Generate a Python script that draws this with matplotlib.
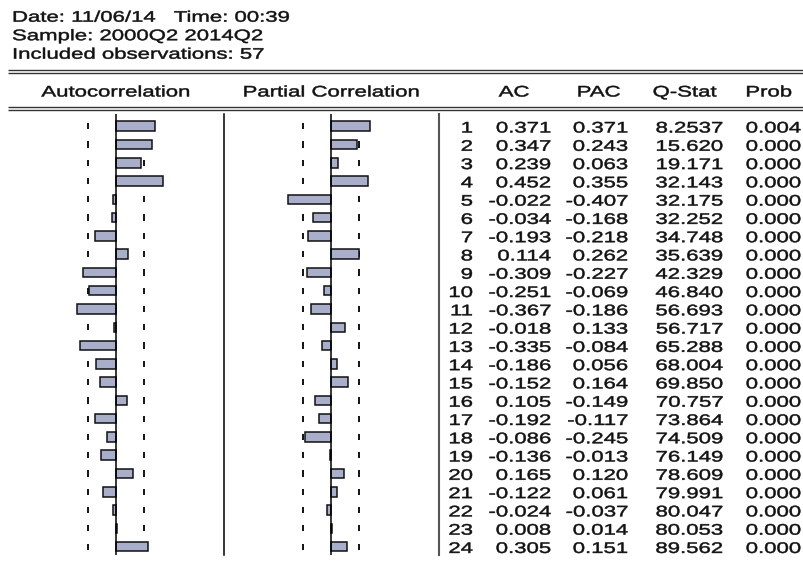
import numpy as np
import matplotlib
matplotlib.use("Agg")
import matplotlib.pyplot as plt
from matplotlib.patheffects import AbstractPathEffect
from matplotlib.transforms import Affine2D

# ---- correlogram values -------------------------------------------------
header_lines = ["Date: 11/06/14   Time: 00:39",
                "Sample: 2000Q2 2014Q2",
                "Included observations: 57"]
n_obs = 57
lags = list(range(1, 25))
ac = [0.371, 0.347, 0.239, 0.452, -0.022, -0.034, -0.193, 0.114,
      -0.309, -0.251, -0.367, -0.018, -0.335, -0.186, -0.152, 0.105,
      -0.192, -0.086, -0.136, 0.165, -0.122, -0.024, 0.008, 0.305]
pac = [0.371, 0.243, 0.063, 0.355, -0.407, -0.168, -0.218, 0.262,
       -0.227, -0.069, -0.186, 0.133, -0.084, 0.056, 0.164, -0.149,
       -0.117, -0.245, -0.013, 0.120, 0.061, -0.037, 0.014, 0.151]
q_stat = [8.2537, 15.620, 19.171, 32.143, 32.175, 32.252, 34.748, 35.639,
          42.329, 46.840, 56.693, 56.717, 65.288, 68.004, 69.850, 70.757,
          73.864, 74.509, 76.149, 78.609, 79.991, 80.047, 80.053, 89.562]
prob = [0.004, 0.000, 0.000, 0.000, 0.000, 0.000, 0.000, 0.000,
        0.000, 0.000, 0.000, 0.000, 0.000, 0.000, 0.000, 0.000,
        0.000, 0.000, 0.000, 0.000, 0.000, 0.000, 0.000, 0.000]
col_titles = ["AC", "PAC", "Q-Stat", "Prob"]

# ---- layout (figure pixels) ---------------------------------------------
W, H = 804, 563
ROW0, ROW_H = 126.2, 18.28          # centre of lag 1, row pitch
TOP, BOT = 114.0, 555.0             # vertical extent of the panels
SCALE = 105.5                       # pixels per unit of correlation
ACF_ZERO, PACF_ZERO = 115.7, 331.0
SEP_X, TABLE_X = 224.3, 439.0
BAR_FILL = "#A9AFCB"
INK = "#111111"
FONT = "Liberation Sans"
FS = 11
STRETCH = 1.45

fig = plt.figure(figsize=(W / 100, H / 100), dpi=100)
fig.patch.set_facecolor("white")


def px_axes(x0, x1, y0, y1, **kw):
    return fig.add_axes([x0 / W, 1 - y1 / H, (x1 - x0) / W, (y1 - y0) / H], **kw)


class HStretch(AbstractPathEffect):
    """Widen glyph outlines horizontally about a fixed display x."""

    def __init__(self, sx, x0, weight=0.35):
        super().__init__()
        self.sx = sx
        self.x0 = x0
        self.weight = weight

    def draw_path(self, renderer, gc, tpath, affine, rgbFace=None):
        t = affine + Affine2D().translate(-self.x0, 0).scale(self.sx, 1).translate(self.x0, 0)
        gc0 = renderer.new_gc()
        gc0.copy_properties(gc)
        gc0.set_linewidth(self.weight)
        renderer.draw_path(gc0, tpath, t, rgbFace)
        gc0.restore()


lag_top = 1 + (TOP - ROW0) / ROW_H
lag_bot = 1 + (BOT - ROW0) / ROW_H
bound = 2 / np.sqrt(n_obs)


def bar_panel(x_left, x_right, zero, values):
    ax = px_axes(x_left, x_right, TOP, BOT)
    ax.set_xlim((x_left - zero) / SCALE, (x_right - zero) / SCALE)
    ax.set_ylim(lag_bot, lag_top)
    ax.axis("off")
    lg = np.array(lags, dtype=float)
    ax.vlines([-bound] * len(lg), lg - 0.17, lg + 0.17, colors="black",
              linewidth=1.3, zorder=1)
    ax.vlines([bound] * len(lg), lg - 0.17, lg + 0.17, colors="black",
              linewidth=1.3, zorder=1)
    ax.barh(lg, values, height=0.52, left=0, color=BAR_FILL,
            edgecolor="#111111", linewidth=1.1, zorder=2)
    ax.axvline(0, color="black", linewidth=1.1, zorder=3)
    return ax


bar_panel(8, SEP_X, ACF_ZERO, ac)
bar_panel(SEP_X, TABLE_X, PACF_ZERO, pac)

ov = px_axes(0, W, 0, H)
ov.set_xlim(0, W)
ov.set_ylim(H, 0)
ov.axis("off")


def put(x, y, s, ha):
    x0 = ov.transData.transform((x, 0))[0]
    ov.text(x, y, s, ha=ha, va="baseline", family=FONT, fontsize=FS,
            color=INK, path_effects=[HStretch(STRETCH, x0)])


# header block
for i, line in enumerate(header_lines):
    put(12, 21.7 + i * 18.5, line, "left")

for y in (69.8, 73.2, 106.8, 110.2):
    ov.plot([8, W], [y, y], color="#333333", linewidth=1.0, solid_capstyle="butt")

put(ACF_ZERO, 96.5, "Autocorrelation", "center")
put(PACF_ZERO, 96.5, "Partial Correlation", "center")
for x, t in zip([514, 598.5, 684.5, 768.5], col_titles):
    put(x, 96.5, t, "center")

# panel separators
ov.plot([SEP_X, SEP_X], [TOP, BOT], color="black", linewidth=1.1)
ov.plot([TABLE_X, TABLE_X], [TOP, BOT], color="#555555", linewidth=1.5)


def fmt_q(q):
    return f"{q:.4f}" if q < 10 else f"{q:.3f}"


for k, lag in enumerate(lags):
    yb = ROW0 + (lag - 1) * ROW_H + 6.3
    put(473, yb, str(lag), "right")
    put(551, yb, f"{ac[k]:.3f}", "right")
    put(628, yb, f"{pac[k]:.3f}", "right")
    put(723, yb, fmt_q(q_stat[k]), "right")
    put(801, yb, f"{prob[k]:.3f}", "right")

fig.savefig("out.png", dpi=100, facecolor="white")
